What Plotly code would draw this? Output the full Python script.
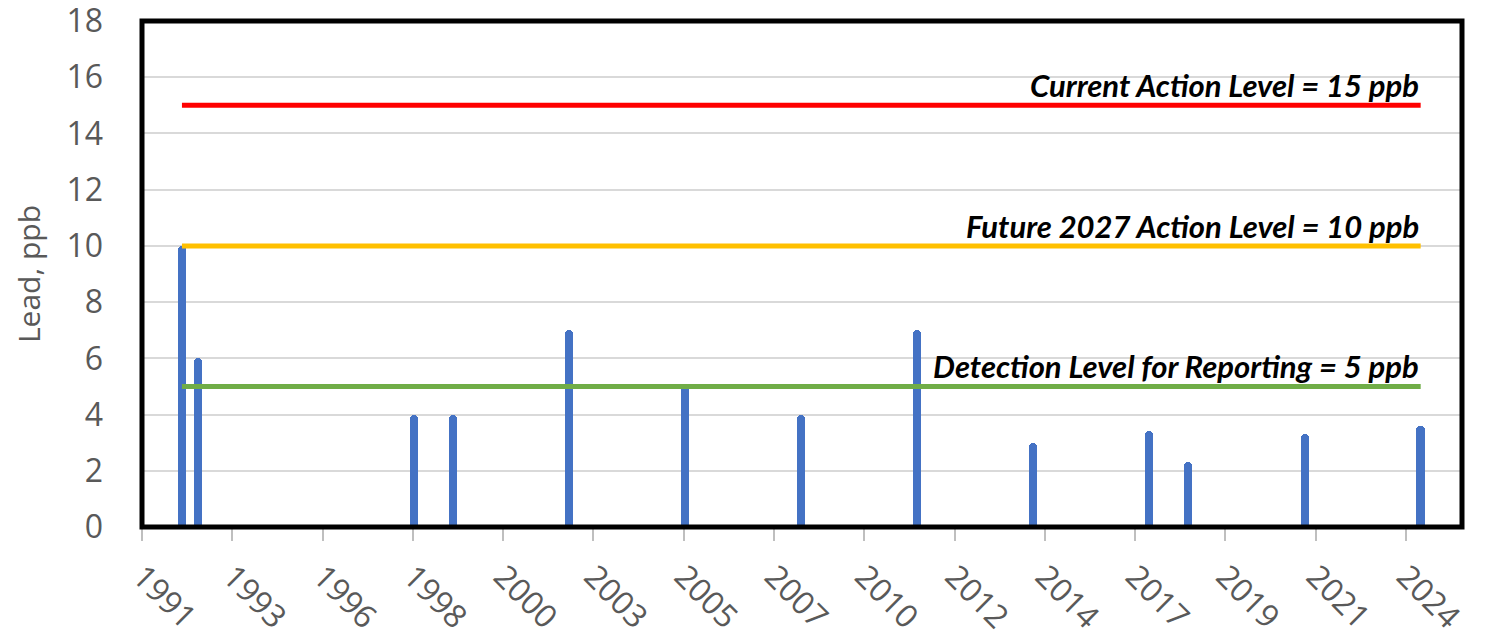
import pandas as pd
import plotly.graph_objects as go

# ---- data ----
sample_dates = ["1992-06-12", "1992-11-10", "1998-06-10", "1999-06-13", "2002-06-12",
                "2005-06-11", "2008-06-09", "2011-06-08", "2014-06-07", "2017-06-06",
                "2018-06-09", "2021-06-16", "2024-06-13"]
lead_ppb = [10, 6, 4, 4, 7, 5, 4, 7, 3, 3.4, 2.3, 3.3, 3.6]

ref_levels = [15, 10, 5]
ref_labels = ["Current Action Level = 15 ppb",
              "Future 2027 Action Level = 10 ppb",
              "Detection Level for Reporting = 5 ppb"]
ref_colors = ["#FF0000", "#FFC000", "#70AD47"]

axis_start = "1991-06-01"
axis_end = "2025-07-08"
tick_step_days = 852
n_ticks = 15
y_ticks = list(range(0, 19, 2))

# ---- figure ----
dates = pd.to_datetime(sample_dates)
tickvals = pd.date_range(start=axis_start, periods=n_ticks, freq=f"{tick_step_days}D")

fig = go.Figure()
fig.add_trace(go.Bar(
    x=dates, y=lead_ppb,
    width=80 * 24 * 3600 * 1000,
    marker=dict(color="#4472C4", line=dict(width=0), cornerradius=4),
    showlegend=False,
))

for lvl, lab, col in zip(ref_levels, ref_labels, ref_colors):
    fig.add_trace(go.Scatter(
        x=[dates[0], dates[-1]], y=[lvl, lvl], mode="lines",
        line=dict(color=col, width=5), showlegend=False, hoverinfo="skip",
    ))
    fig.add_annotation(
        x=dates[-1], y=lvl, xref="x", yref="y", text=f"<b><i>{lab}</i></b>",
        showarrow=False, xanchor="right", yanchor="bottom", yshift=-1,
        font=dict(family="Lato", size=31, color="#000000"),
    )

fig.update_xaxes(
    type="date", range=[axis_start, axis_end],
    tickvals=tickvals, tickformat="%Y", tickangle=45,
    ticks="outside", ticklen=13, tickcolor="#BFBFBF", tickwidth=1.5,
    ticklabelstandoff=4,
    showgrid=False, zeroline=False, showline=False,
    tickfont=dict(family="Open Sans", size=32, color="#595959"), automargin=False,
)
fig.update_yaxes(
    range=[0, 18], tickvals=y_ticks,
    showgrid=True, gridcolor="#D9D9D9", gridwidth=1.5, zeroline=False,
    ticks="", ticklabelstandoff=38, ticklabeloverflow="allow",
    tickfont=dict(family="Open Sans", size=32, color="#595959"), automargin=False,
    title=dict(text="Lead, ppb", font=dict(family="Open Sans", size=30, color="#595959"),
               standoff=20),
)

fig.add_shape(type="rect", xref="paper", yref="paper", x0=0, x1=1, y0=0, y1=1,
              line=dict(color="#000000", width=5), layer="above")

# page body has an 8px margin: shrink the figure and margins to compensate
fig.update_layout(
    width=1483, height=634,
    margin=dict(l=134, r=29, t=13, b=115, pad=0),
    paper_bgcolor="white", plot_bgcolor="white",
    bargap=0,
)

fig.write_html("out.html")
